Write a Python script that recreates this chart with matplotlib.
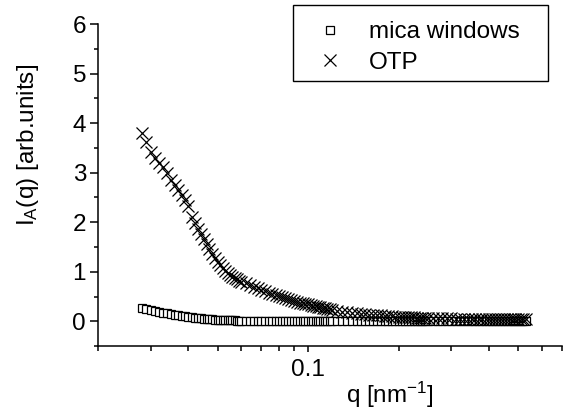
import matplotlib
matplotlib.use("Agg")
import matplotlib.pyplot as plt
from matplotlib.patches import Rectangle
from matplotlib.ticker import LogLocator, NullFormatter, FixedLocator, FixedFormatter, MultipleLocator

plt.rcParams['font.family'] = ['Liberation Sans', 'DejaVu Sans']
plt.rcParams['mathtext.fontset'] = 'custom'
plt.rcParams['mathtext.rm'] = 'Liberation Sans'
plt.rcParams['mathtext.it'] = 'Liberation Sans:italic'

# q [nm^-1], shared by both series
q = [0.028, 0.029, 0.030, 0.031, 0.032, 0.033, 0.034, 0.035, 0.036, 0.037, 0.038,
     0.039, 0.040, 0.041, 0.042, 0.043, 0.044, 0.045, 0.046, 0.047, 0.048, 0.049,
     0.050, 0.051, 0.052, 0.053, 0.054, 0.055, 0.056, 0.057, 0.058, 0.059, 0.060,
     0.062, 0.064, 0.066, 0.068, 0.070, 0.072, 0.074, 0.076, 0.078, 0.080,
     0.082, 0.084, 0.086, 0.088, 0.090, 0.092, 0.094, 0.096, 0.098, 0.100,
     0.102, 0.104, 0.106, 0.108, 0.110, 0.112, 0.114, 0.116, 0.118, 0.120,
     0.125, 0.130, 0.135, 0.140, 0.145, 0.150, 0.155, 0.160, 0.165, 0.170,
     0.175, 0.180, 0.185, 0.190, 0.195, 0.200, 0.205, 0.210, 0.215, 0.220,
     0.225, 0.230, 0.235, 0.240, 0.245, 0.250,
     0.26, 0.27, 0.28, 0.29, 0.30, 0.31, 0.32, 0.33, 0.34, 0.35,
     0.36, 0.37, 0.38, 0.39, 0.40, 0.41, 0.42, 0.43, 0.44, 0.45,
     0.46, 0.47, 0.48, 0.49, 0.50, 0.51, 0.52, 0.53]

I_otp = [3.80, 3.62, 3.42, 3.30, 3.20, 3.12, 3.00, 2.86, 2.76, 2.66, 2.55,
         2.45, 2.32, 2.10, 1.98, 1.86, 1.76, 1.66, 1.56, 1.46, 1.36, 1.27,
         1.20, 1.14, 1.08, 1.02, 0.97, 0.93, 0.90, 0.87, 0.85, 0.82, 0.80,
         0.77, 0.74, 0.70, 0.67, 0.64, 0.61, 0.58, 0.56, 0.53, 0.51,
         0.49, 0.47, 0.45, 0.43, 0.41, 0.40, 0.38, 0.37, 0.35, 0.34,
         0.33, 0.31, 0.30, 0.29, 0.28, 0.27, 0.26, 0.25, 0.24, 0.23,
         0.21, 0.19, 0.18, 0.17, 0.16, 0.15, 0.14, 0.135, 0.13, 0.125,
         0.12, 0.11, 0.105, 0.10, 0.095, 0.09, 0.088, 0.085, 0.082, 0.08,
         0.078, 0.075, 0.073, 0.07, 0.068, 0.066,
         0.064, 0.062, 0.06, 0.059, 0.058, 0.057, 0.056, 0.055, 0.054, 0.053,
         0.052, 0.052, 0.051, 0.05, 0.05, 0.049, 0.049, 0.048, 0.048, 0.047,
         0.047, 0.046, 0.046, 0.045, 0.045, 0.045, 0.044, 0.044]

I_mica = [0.26, 0.24, 0.22, 0.20, 0.19, 0.17, 0.16, 0.14, 0.13, 0.12, 0.11,
          0.10, 0.09, 0.08, 0.075, 0.07, 0.06, 0.055, 0.05, 0.045, 0.04, 0.035,
          0.03, 0.03, 0.025, 0.025, 0.02, 0.02, 0.02, 0.02, 0.015, 0.015, 0.015,
          0.015, 0.015, 0.015, 0.015, 0.015, 0.012, 0.012, 0.012, 0.012, 0.012,
          0.012, 0.012, 0.012, 0.012, 0.012, 0.01, 0.01, 0.01, 0.01, 0.01,
          0.01, 0.01, 0.01, 0.01, 0.01, 0.01, 0.01, 0.01, 0.01, 0.01,
          0.01, 0.01, 0.01, 0.01, 0.01, 0.01, 0.01, 0.01, 0.01, 0.01,
          0.01, 0.01, 0.01, 0.01, 0.01, 0.01, 0.01, 0.01, 0.01, 0.01,
          0.01, 0.01, 0.01, 0.01, 0.01, 0.01,
          0.01, 0.01, 0.01, 0.01, 0.01, 0.01, 0.01, 0.01, 0.01, 0.01,
          0.01, 0.01, 0.01, 0.01, 0.01, 0.01, 0.01, 0.01, 0.01, 0.01,
          0.01, 0.01, 0.01, 0.01, 0.01, 0.01, 0.01, 0.01]

FS = 17.5

fig = plt.figure(figsize=(5.66, 4.15), dpi=100)
ax = fig.add_axes([0.173, 0.166, 0.820, 0.776])

ax.plot(q, I_mica, linestyle='none', marker='s', markersize=5.2,
        markerfacecolor='white', markeredgecolor='black', markeredgewidth=0.9,
        label='mica windows')
ax.plot(q, I_otp, linestyle='none', marker='x', markersize=8.5,
        color='black', markeredgewidth=0.9, label='OTP')

ax.set_xscale('log')
ax.set_xlim(0.02, 0.7)
ax.set_ylim(-0.5, 6)

ax.xaxis.set_major_locator(FixedLocator([0.1]))
ax.xaxis.set_major_formatter(FixedFormatter(['0.1']))
ax.xaxis.set_minor_locator(LogLocator(base=10, subs=range(2, 10)))
ax.xaxis.set_minor_formatter(NullFormatter())
ax.yaxis.set_major_locator(MultipleLocator(1))
ax.yaxis.set_minor_locator(MultipleLocator(0.5))

for s in ['top', 'right']:
    ax.spines[s].set_visible(False)
for s in ['left', 'bottom']:
    ax.spines[s].set_linewidth(1.1)

ax.tick_params(axis='both', which='both', direction='out', width=1.1, labelsize=FS)
ax.tick_params(axis='x', which='major', length=4.5, pad=5)
ax.tick_params(axis='x', which='minor', length=3.5)
ax.tick_params(axis='y', which='major', length=5.5, pad=3)
ax.tick_params(axis='y', which='minor', length=3)

ax.set_xlabel(r'q [nm$\mathregular{^{-1}}$]', fontsize=FS)
ax.xaxis.set_label_coords(0.629, -0.105)
ax.set_ylabel(r'$\mathregular{I_A}$(q) [arb.units]', fontsize=FS)
ax.yaxis.set_label_coords(-0.122, 0.624)

# legend frame drawn separately so it can be wider than its contents
ax.add_patch(Rectangle((293 / 566, 1 - 81 / 415), 255 / 566, 76 / 415,
                       transform=fig.transFigure, facecolor='white',
                       edgecolor='black', linewidth=1.0, clip_on=False, zorder=4))
leg = ax.legend(loc='upper left', bbox_to_anchor=(318 / 566, 1 - 21 / 415),
                bbox_transform=fig.transFigure, borderaxespad=0, borderpad=0,
                fontsize=FS, frameon=False, handlelength=1.0, markerscale=1.0,
                handletextpad=1.1, labelspacing=0.36)
leg.set_zorder(5)

fig.savefig('out.png', dpi=100)
